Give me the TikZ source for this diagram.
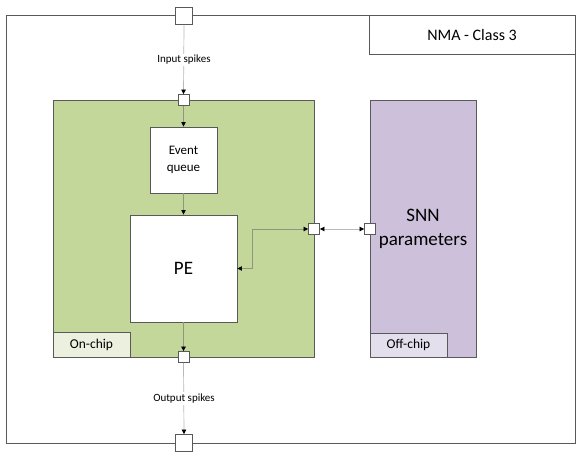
\documentclass[tikz,border=0pt]{standalone}
\usepackage{fontspec}
\setmainfont{Carlito}
\usetikzlibrary{arrows.meta}
\definecolor{frame}{HTML}{595959}
\definecolor{connout}{HTML}{B9B9B9}
\definecolor{connin}{HTML}{8E9680}
\definecolor{chipgreen}{HTML}{C4D79B}
\definecolor{chiplight}{HTML}{EBF1DE}
\definecolor{offpurple}{HTML}{CCC0DA}
\definecolor{offlight}{HTML}{E4DFEC}
\tikzset{
  box/.style={draw=frame, line width=0.9pt, rectangle, inner sep=0pt, align=center},
  port/.style={draw=frame, line width=0.8pt, fill=white, rectangle, inner sep=0pt},
  connector/.style={draw=connout, line width=0.7pt},
  inconnector/.style={draw=connin, line width=0.7pt},
  tip/.style={-{Triangle[length=4.5pt,width=4.5pt,fill=black,color=black]}},
  tips/.style={{Triangle[length=4.5pt,width=4.5pt,fill=black,color=black]}-{Triangle[length=4.5pt,width=4.5pt,fill=black,color=black]}},
  lbl/.style={fill=white, inner sep=1.5pt, font=\fontsize{11}{13}\selectfont}
}
\begin{document}
\begin{tikzpicture}[x=1pt,y=-1pt]
\useasboundingbox (0,0) rectangle (583,459);
% outer frame and title
\node[box, minimum width=569pt, minimum height=428pt] (outer) at (290.5,229) {};
\node[box, fill=white, minimum width=206pt, minimum height=39pt, font=\fontsize{16}{19}\selectfont] (title) at (472,34.5) {NMA - Class 3};
% chip regions
\node[box, fill=chipgreen, minimum width=261pt, minimum height=257pt] (onchip) at (183.5,228.5) {};
\node[box, fill=offpurple, minimum width=106pt, minimum height=257pt, font=\fontsize{19}{24}\selectfont] (offchip) at (423,228.5) {SNN\\parameters};
\node[box, fill=chiplight, minimum width=77pt, minimum height=25pt, font=\fontsize{13.5}{16}\selectfont] (onlabel) at (91.5,344.5) {On-chip};
\node[box, fill=offlight, minimum width=77pt, minimum height=24pt, font=\fontsize{13.5}{16}\selectfont] (offlabel) at (408.5,345) {Off-chip};
% inner blocks
\node[box, fill=white, minimum width=67pt, minimum height=66pt, font=\fontsize{13}{17}\selectfont] (eq) at (183.5,160) {Event\\queue};
\node[box, fill=white, minimum width=107pt, minimum height=107pt, font=\fontsize{19}{23}\selectfont] (pe) at (183.5,268.5) {PE};
% ports
\node[port, minimum size=17pt] (ptop) at (184,16) {};
\node[port, minimum size=17pt] (pbot) at (184,443) {};
\node[port, minimum size=11pt] (pin) at (183.5,100) {};
\node[port, minimum size=11pt] (pout) at (183.5,357) {};
\node[port, minimum size=11pt] (pright) at (314,229) {};
\node[port, minimum size=11pt] (pparam) at (370,229) {};
\coordinate (bend) at (252,229);
% connectors
\draw[connector, tip] (ptop.south) -- (pin.north);
\node[lbl] (inlbl) at (184,60) {Input spikes};
\draw[inconnector, tip] (pin.south) -- (eq.north);
\draw[inconnector, tip] (eq.south) -- (pe.north);
\draw[inconnector, tip] (pe.south) -- (pout.north);
\draw[connector, tip] (pout.south) -- (pbot.north);
\node[lbl] (outlbl) at (184,398.5) {Output spikes};
\draw[inconnector, tips] (pright.west) -- (bend) |- (pe.east);
\draw[connector, tips] (pright.east) -- (pparam.west);
\end{tikzpicture}
\end{document}
